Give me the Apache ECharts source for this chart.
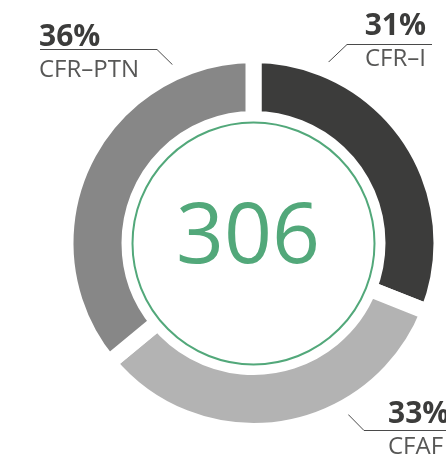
<!DOCTYPE html>
<html>
<head>
<meta charset="utf-8">
<script src="https://cdn.jsdelivr.net/npm/echarts@6/dist/echarts.min.js"></script>
<style>html,body{margin:0;padding:0;background:#fff;}#c{width:446px;height:454px;}</style>
</head>
<body>
<div id="c"></div>
<script>
// ---- data ----
const categories = ['CFR–I', 'CFAF', 'CFR–PTN'];
const shares = [31, 33, 36];
const total = 306;

// ---- style / layout ----
const colors = ['#3c3c3b', '#b3b3b3', '#878787'];
const green = '#52a87a';
const cx = 253.5, cy = 243;
const labelPlace = [
  { x: 426, y: 10, align: 'right', line: [[316, 74], [347, 44.5], [432, 44.5]] },
  { x: 388, y: 398, align: 'left', line: [[329, 395], [364, 430.5], [446, 430.5]] },
  { x: 39, y: 21.5, align: 'left', line: [[185, 77], [157, 49.5], [40, 49.5]] }
];

const chart = echarts.init(document.getElementById('c'), null, { renderer: 'canvas' });
const fam = '"Open Sans", "Noto Sans", sans-serif';
chart.setOption({
  animation: false,
  series: [{
    type: 'pie',
    center: [cx, cy],
    radius: [124, 188],
    startAngle: 90,
    clockwise: true,
    avoidLabelOverlap: false,
    itemStyle: { borderColor: '#fff', borderWidth: 16 },
    data: categories.map((n, i) => ({ name: n, value: shares[i], itemStyle: { color: colors[i] } })),
    label: {
      show: true,
      fontFamily: fam,
      formatter: p => '{p|' + p.value + '%}\n{n|' + p.name + '}',
      rich: {
        p: { fontSize: 30, fontWeight: 'bold', color: '#3c3c3b', lineHeight: 32, fontFamily: fam },
        n: { fontSize: 24, color: '#575756', lineHeight: 34, fontFamily: fam }
      }
    },
    labelLine: { show: true, lineStyle: { color: '#4a4a4a', width: 1 }, smooth: false },
    labelLayout: function (params) {
      const L = labelPlace[params.dataIndex];
      return { x: L.x, y: L.y, align: L.align, verticalAlign: 'top', labelLinePoints: L.line, hideOverlap: false };
    }
  }],
  graphic: [
    { type: 'circle', z: 100, shape: { cx: cx, cy: cy + 0.5, r: 121 }, style: { fill: 'none', stroke: green, lineWidth: 2 } },
    { type: 'text', z: 100, x: 248, y: 239, style: { text: String(total), fontSize: 84, fontFamily: fam, fill: green, align: 'center', verticalAlign: 'middle' } }
  ]
});
</script>
</body>
</html>
